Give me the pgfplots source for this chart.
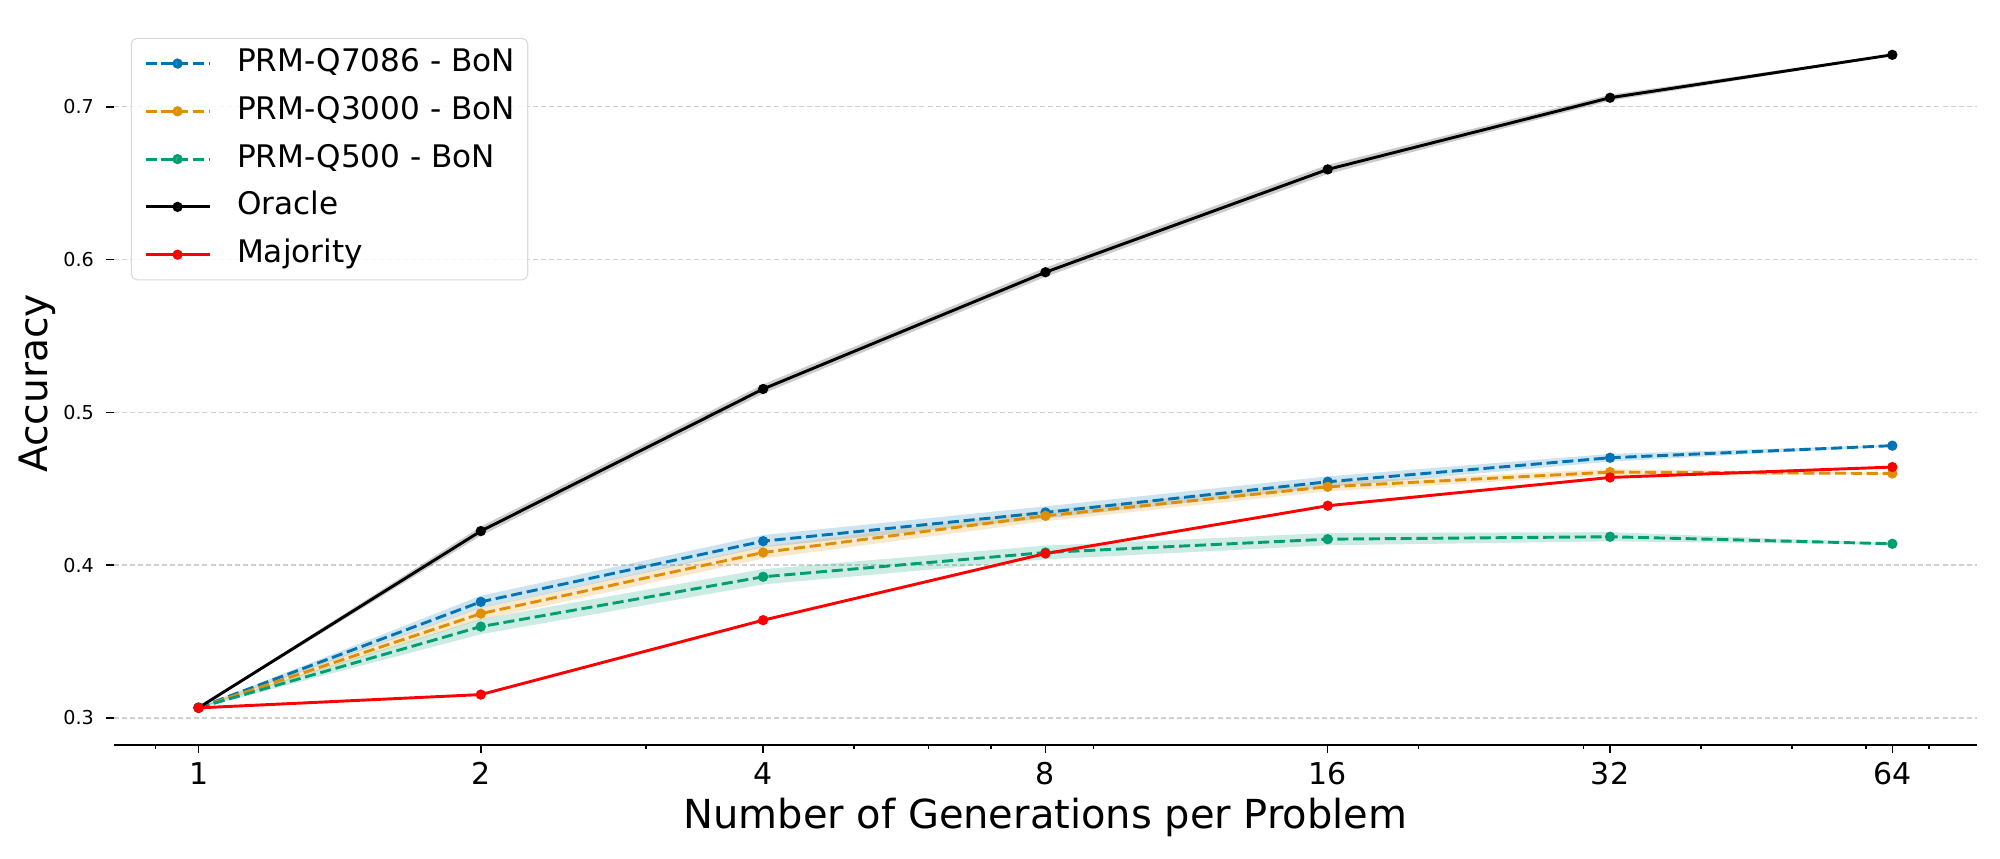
\documentclass[border=0pt]{standalone}
\usepackage{fontspec}
\setmainfont{DejaVu Sans}
\usepackage{pgfplots}
\pgfplotsset{compat=1.18}
\definecolor{cbblue}{HTML}{0173B2}
\definecolor{cborange}{HTML}{DE8F05}
\definecolor{cbgreen}{HTML}{029E73}
\definecolor{gridgray}{HTML}{D0D0D0}

\begin{document}
\begin{tikzpicture}
\useasboundingbox (-41pt,-40.7pt) rectangle (679pt,268.2pt);
\begin{axis}[
    scale only axis,
    width=670.7pt, height=260.3pt,
    at={(0,0)}, anchor=south west,
    xmode=log, log basis x=2,
    xmin=0.8123, xmax=78.79,
    ymin=0.2823, ymax=0.7555,
    axis x line*=bottom, axis y line*=left,
    x axis line style={-, black, line width=0.6pt},
    y axis line style={draw=none},
    tick align=outside,
    major tick length=2.7pt,
    xminorticks=false, yminorticks=false,
    xtick style={draw=black, line width=0.5pt},
    ytick style={draw=black, line width=0.6pt},
    xtick={1,2,4,8,16,32,64},
    xticklabels={1,2,4,8,16,32,64},
    extra x ticks={0.9,3,5,6,7,9,20,30,40,50,60,70},
    extra x tick labels={},
    extra x tick style={major tick length=1.6pt, xmajorgrids=false},
    ytick={0.3,0.4,0.5,0.6,0.7},
    yticklabels={0.3,0.4,0.5,0.6,0.7},
    /pgf/number format/assume math mode=true,
    xticklabel style={font=\fontsize{10.8}{12}\selectfont},
    yticklabel style={font=\fontsize{6.9}{8}\selectfont, xshift=-1pt},
    ymajorgrids,
    major grid style={gridgray, line width=0.5pt, dash pattern=on 1.8pt off 1.1pt},
    xlabel={Number of Generations per Problem},
    ylabel={Accuracy},
    every axis x label/.style={at={(axis description cs:0.5,0)}, anchor=base, yshift=-30.2pt, font=\fontsize{14.4}{16}\selectfont},
    every axis y label/.style={at={([xshift=-27.4pt]axis description cs:0,0.5)}, rotate=90, anchor=center, font=\fontsize{14.1}{16}\selectfont},
    legend cell align=left,
    legend image code/.code={\draw[mark repeat=2,mark phase=2,#1] plot coordinates {(0pt,0pt) (11.5pt,0pt) (23pt,0pt)};},
    legend style={at={(0.0091,0.978)}, anchor=north west,
        draw=black!15, rounded corners=2pt, fill=white, fill opacity=0.8, text opacity=1,
        font=\fontsize{11.2}{13}\selectfont,
        nodes={inner sep=0pt, text height=8.3pt, text depth=2.6pt},
        column sep=9.4pt, row sep=6.3pt, inner xsep=4.6pt, inner ysep=3.6pt},
]

% bands (upper forward, lower backward)
\addplot[draw=none, fill=cbblue, fill opacity=0.2, forget plot] coordinates {
    (1,0.3072) (2,0.3800) (4,0.4197) (8,0.4385) (16,0.4581) (32,0.4728) (64,0.4787)
    (64,0.4777) (32,0.4678) (16,0.4511) (8,0.4305) (4,0.4117) (2,0.3720) (1,0.3062)
};
\addplot[draw=none, fill=cborange, fill opacity=0.2, forget plot] coordinates {
    (1,0.3072) (2,0.3723) (4,0.4123) (8,0.4358) (16,0.4543) (32,0.4629) (64,0.4605)
    (64,0.4595) (32,0.4589) (16,0.4483) (8,0.4288) (4,0.4043) (2,0.3643) (1,0.3062)
};
\addplot[draw=none, fill=cbgreen, fill opacity=0.2, forget plot] coordinates {
    (1,0.3072) (2,0.3648) (4,0.3974) (8,0.4128) (16,0.4210) (32,0.4216) (64,0.4145)
    (64,0.4135) (32,0.4156) (16,0.4130) (8,0.4038) (4,0.3874) (2,0.3548) (1,0.3062)
};
\addplot[draw=none, fill=black, fill opacity=0.2, forget plot] coordinates {
    (1,0.3072) (2,0.4253) (4,0.5183) (8,0.5947) (16,0.6620) (32,0.7079) (64,0.7345)
    (64,0.7335) (32,0.7039) (16,0.6560) (8,0.5887) (4,0.5123) (2,0.4193) (1,0.3062)
};

\addplot[cbblue, line width=1.05pt, dash pattern=on 4pt off 1.7pt, mark=*, mark size=1.3pt, mark options={solid}] coordinates {
    (1,0.3067) (2,0.3760) (4,0.4157) (8,0.4345) (16,0.4546) (32,0.4703) (64,0.4782)
};
\addlegendentry{PRM-Q7086 - BoN}

\addplot[cborange, line width=1.05pt, dash pattern=on 4pt off 1.7pt, mark=*, mark size=1.3pt, mark options={solid}] coordinates {
    (1,0.3067) (2,0.3683) (4,0.4083) (8,0.4323) (16,0.4513) (32,0.4609) (64,0.4600)
};
\addlegendentry{PRM-Q3000 - BoN}

\addplot[cbgreen, line width=1.05pt, dash pattern=on 4pt off 1.7pt, mark=*, mark size=1.3pt, mark options={solid}] coordinates {
    (1,0.3067) (2,0.3598) (4,0.3924) (8,0.4083) (16,0.4170) (32,0.4186) (64,0.4140)
};
\addlegendentry{PRM-Q500 - BoN}

\addplot[black, line width=1.05pt, mark=*, mark size=1.3pt] coordinates {
    (1,0.3067) (2,0.4223) (4,0.5153) (8,0.5917) (16,0.6590) (32,0.7059) (64,0.7340)
};
\addlegendentry{Oracle}

\addplot[red, line width=1.05pt, mark=*, mark size=1.3pt] coordinates {
    (1,0.3066) (2,0.3153) (4,0.3640) (8,0.4076) (16,0.4389) (32,0.4574) (64,0.4642)
};
\addlegendentry{Majority}

\end{axis}
\end{tikzpicture}
\end{document}
